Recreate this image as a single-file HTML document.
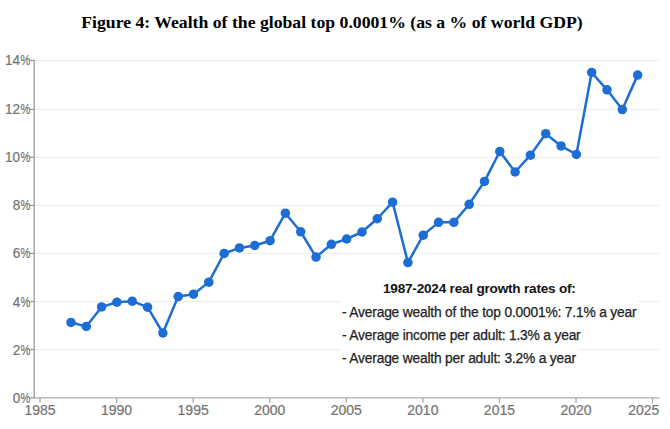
<!DOCTYPE html>
<html><head><meta charset="utf-8"><style>
html,body{margin:0;padding:0;background:#fff;}
body{width:670px;height:429px;position:relative;overflow:hidden;}
.title{position:absolute;left:-3px;width:670px;top:12px;text-align:center;font-family:"Liberation Serif",serif;font-weight:bold;font-size:17.7px;color:#000;white-space:nowrap;}
svg{position:absolute;left:0;top:0;}
.yl{position:absolute;right:640px;transform:scaleX(0.965);transform-origin:right center;-webkit-text-stroke:0.2px #737373;font-family:"Liberation Sans",sans-serif;font-size:14px;color:#737373;line-height:16px;white-space:nowrap;}
.xl{position:absolute;top:402px;-webkit-text-stroke:0.2px #737373;width:80px;text-align:center;font-family:"Liberation Sans",sans-serif;font-size:14px;color:#737373;line-height:16px;}
.an{position:absolute;font-family:"Liberation Sans",sans-serif;font-size:13.8px;letter-spacing:-0.19px;-webkit-text-stroke:0.25px #222;color:#222;white-space:nowrap;line-height:16px;}
.pc{display:inline-block;transform:scaleX(0.82);transform-origin:right center;margin-left:-2px;}
.an span{background:#fff;padding:4px 2px;}
</style></head><body>
<div class="title">Figure 4: Wealth of the global top 0.0001% (as a % of world GDP)</div>
<svg width="670" height="429" viewBox="0 0 670 429">
<g stroke="#ececec" stroke-width="1">
<line x1="34.2" y1="349.55" x2="659.5" y2="349.55"/>
<line x1="34.2" y1="301.55" x2="659.5" y2="301.55"/>
<line x1="34.2" y1="253.40" x2="659.5" y2="253.40"/>
<line x1="34.2" y1="205.40" x2="659.5" y2="205.40"/>
<line x1="34.2" y1="157.30" x2="659.5" y2="157.30"/>
<line x1="34.2" y1="109.40" x2="659.5" y2="109.40"/>
<line x1="34.2" y1="60.40" x2="659.5" y2="60.40"/>
</g>
<g stroke="#9a9a9a" stroke-width="1.3">
<line x1="34.2" y1="59.75" x2="34.2" y2="397.9"/>
<line x1="34.2" y1="397.9" x2="659.5" y2="397.9" stroke="#adadad"/>
<line x1="30" y1="398.00" x2="34.2" y2="398.00"/>
<line x1="30" y1="349.55" x2="34.2" y2="349.55"/>
<line x1="30" y1="301.55" x2="34.2" y2="301.55"/>
<line x1="30" y1="253.40" x2="34.2" y2="253.40"/>
<line x1="30" y1="205.40" x2="34.2" y2="205.40"/>
<line x1="30" y1="157.30" x2="34.2" y2="157.30"/>
<line x1="30" y1="109.40" x2="34.2" y2="109.40"/>
<line x1="30" y1="60.40" x2="34.2" y2="60.40"/>
<line x1="40.00" y1="397.9" x2="40.00" y2="402.8" stroke="#a8a8a8"/>
<line x1="116.58" y1="397.9" x2="116.58" y2="402.8" stroke="#a8a8a8"/>
<line x1="193.15" y1="397.9" x2="193.15" y2="402.8" stroke="#a8a8a8"/>
<line x1="269.73" y1="397.9" x2="269.73" y2="402.8" stroke="#a8a8a8"/>
<line x1="346.30" y1="397.9" x2="346.30" y2="402.8" stroke="#a8a8a8"/>
<line x1="422.88" y1="397.9" x2="422.88" y2="402.8" stroke="#a8a8a8"/>
<line x1="499.45" y1="397.9" x2="499.45" y2="402.8" stroke="#a8a8a8"/>
<line x1="576.02" y1="397.9" x2="576.02" y2="402.8" stroke="#a8a8a8"/>
<line x1="652.60" y1="397.9" x2="652.60" y2="402.8" stroke="#a8a8a8"/>
</g>
<polyline points="70.98,322.38 86.29,326.48 101.61,306.96 116.92,302.14 132.24,301.18 147.55,307.20 162.87,332.99 178.19,296.60 193.50,294.19 208.81,282.14 224.13,253.46 239.44,247.92 254.76,245.51 270.08,240.69 285.39,213.21 300.71,231.77 316.02,257.07 331.34,244.30 346.65,239.00 361.97,232.01 377.28,218.75 392.60,202.13 407.91,262.62 423.23,235.14 438.54,222.37 453.86,222.37 469.17,204.29 484.49,181.40 499.80,151.52 515.12,172.00 530.43,155.13 545.75,133.68 561.06,145.97 576.38,154.41 591.69,72.47 607.00,89.82 622.32,109.58 637.63,75.12" fill="none" stroke="#1d6ed4" stroke-width="2.5" stroke-linejoin="round"/>
<g fill="#1d6ed4">
<circle cx="70.98" cy="322.38" r="4.75"/>
<circle cx="86.29" cy="326.48" r="4.75"/>
<circle cx="101.61" cy="306.96" r="4.75"/>
<circle cx="116.92" cy="302.14" r="4.75"/>
<circle cx="132.24" cy="301.18" r="4.75"/>
<circle cx="147.55" cy="307.20" r="4.75"/>
<circle cx="162.87" cy="332.99" r="4.75"/>
<circle cx="178.19" cy="296.60" r="4.75"/>
<circle cx="193.50" cy="294.19" r="4.75"/>
<circle cx="208.81" cy="282.14" r="4.75"/>
<circle cx="224.13" cy="253.46" r="4.75"/>
<circle cx="239.44" cy="247.92" r="4.75"/>
<circle cx="254.76" cy="245.51" r="4.75"/>
<circle cx="270.08" cy="240.69" r="4.75"/>
<circle cx="285.39" cy="213.21" r="4.75"/>
<circle cx="300.71" cy="231.77" r="4.75"/>
<circle cx="316.02" cy="257.07" r="4.75"/>
<circle cx="331.34" cy="244.30" r="4.75"/>
<circle cx="346.65" cy="239.00" r="4.75"/>
<circle cx="361.97" cy="232.01" r="4.75"/>
<circle cx="377.28" cy="218.75" r="4.75"/>
<circle cx="392.60" cy="202.13" r="4.75"/>
<circle cx="407.91" cy="262.62" r="4.75"/>
<circle cx="423.23" cy="235.14" r="4.75"/>
<circle cx="438.54" cy="222.37" r="4.75"/>
<circle cx="453.86" cy="222.37" r="4.75"/>
<circle cx="469.17" cy="204.29" r="4.75"/>
<circle cx="484.49" cy="181.40" r="4.75"/>
<circle cx="499.80" cy="151.52" r="4.75"/>
<circle cx="515.12" cy="172.00" r="4.75"/>
<circle cx="530.43" cy="155.13" r="4.75"/>
<circle cx="545.75" cy="133.68" r="4.75"/>
<circle cx="561.06" cy="145.97" r="4.75"/>
<circle cx="576.38" cy="154.41" r="4.75"/>
<circle cx="591.69" cy="72.47" r="4.75"/>
<circle cx="607.00" cy="89.82" r="4.75"/>
<circle cx="622.32" cy="109.58" r="4.75"/>
<circle cx="637.63" cy="75.12" r="4.75"/>
</g>
</svg>
<div class="yl" style="top:390.00px">0<span class="pc">%</span></div>
<div class="yl" style="top:341.55px">2<span class="pc">%</span></div>
<div class="yl" style="top:293.55px">4<span class="pc">%</span></div>
<div class="yl" style="top:245.40px">6<span class="pc">%</span></div>
<div class="yl" style="top:197.40px">8<span class="pc">%</span></div>
<div class="yl" style="top:149.30px">10<span class="pc">%</span></div>
<div class="yl" style="top:101.40px">12<span class="pc">%</span></div>
<div class="yl" style="top:52.40px">14<span class="pc">%</span></div>
<div class="xl" style="left:0.00px">1985</div>
<div class="xl" style="left:76.58px">1990</div>
<div class="xl" style="left:153.15px">1995</div>
<div class="xl" style="left:229.73px">2000</div>
<div class="xl" style="left:306.30px">2005</div>
<div class="xl" style="left:382.88px">2010</div>
<div class="xl" style="left:459.45px">2015</div>
<div class="xl" style="left:536.02px">2020</div>
<div class="xl" style="left:603.80px">2025</div>

<div class="an" style="left:381px;top:281px;font-weight:bold;color:#111;font-size:13.6px;letter-spacing:-0.22px;-webkit-text-stroke:0"><span>1987-2024 real growth rates of:</span></div>
<div class="an" style="left:340px;top:305px"><span>- Average wealth of the top 0.0001%: 7.1% a year</span></div>
<div class="an" style="left:340px;top:328px"><span>- Average income per adult: 1.3% a year</span></div>
<div class="an" style="left:340px;top:351px"><span>- Average wealth per adult: 3.2% a year</span></div>
</body></html>
